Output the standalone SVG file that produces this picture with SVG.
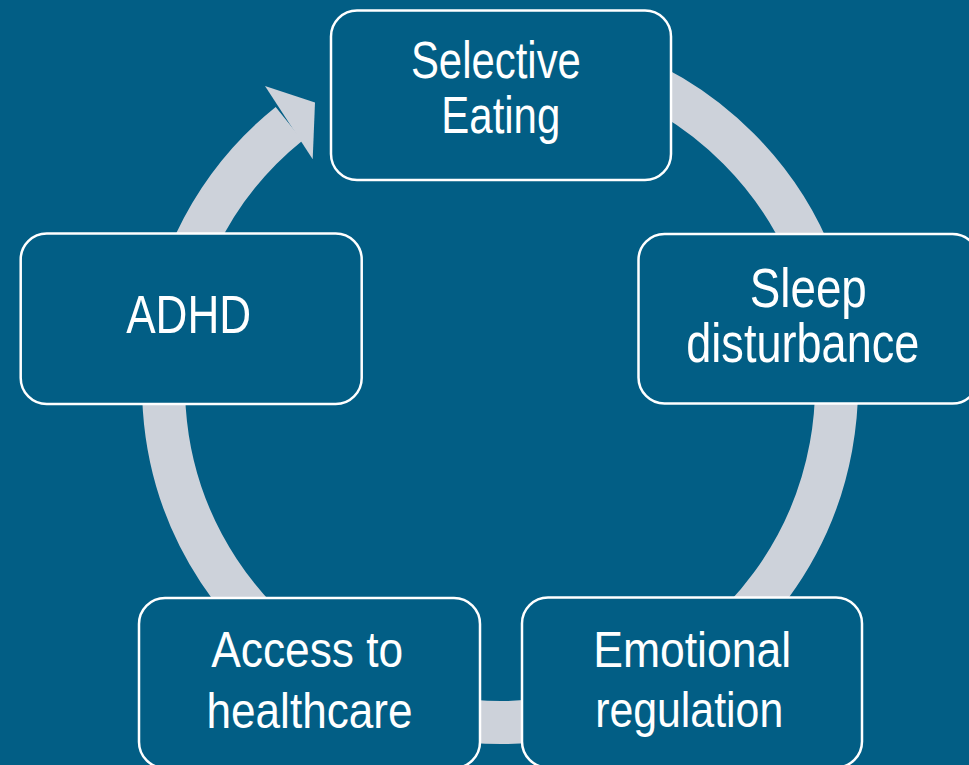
<svg xmlns="http://www.w3.org/2000/svg" width="969" height="765" viewBox="0 0 969 765">
  <style>
    .bg { fill: #025E85; }
    .ring { fill: none; stroke: #CDD2DA; stroke-width: 43; }
    .head { fill: #CDD2DA; }
    .box { fill: #025E85; stroke: #FFFFFF; stroke-width: 2.5; }
    .label { fill: #FFFFFF; font-family: "Liberation Sans", Arial, sans-serif; text-anchor: middle; }
  </style>
  <rect class="bg" x="0" y="0" width="969" height="765"/>

  <!-- circular cycle arrow running clockwise, ending at Selective Eating -->
  <g id="connectors">
    <path class="ring" d="M 441.57 54.61 A 336.5 336.5 0 1 1 289.15 123.75"/>
    <polygon class="head" points="265,86 315,102.5 312.7,159.3"/>
  </g>

  <g id="selective-eating">
    <rect class="box" x="331" y="10.5" width="340" height="169.5" rx="26"/>
    <text class="label" font-size="52" x="495.9" y="78.3" textLength="170" lengthAdjust="spacingAndGlyphs">Selective</text>
    <text class="label" font-size="52" x="500.8" y="133.3" textLength="119" lengthAdjust="spacingAndGlyphs">Eating</text>
  </g>

  <g id="sleep-disturbance">
    <rect class="box" x="638.5" y="234" width="340" height="169.5" rx="26"/>
    <text class="label" font-size="55" x="808.3" y="306.7" textLength="117" lengthAdjust="spacingAndGlyphs">Sleep</text>
    <text class="label" font-size="55" x="802.8" y="361.7" textLength="233" lengthAdjust="spacingAndGlyphs">disturbance</text>
  </g>

  <g id="adhd">
    <rect class="box" x="20.7" y="233.5" width="341" height="170.5" rx="26"/>
    <text class="label" font-size="54" x="188.7" y="333.3" textLength="125" lengthAdjust="spacingAndGlyphs">ADHD</text>
  </g>

  <g id="access-to-healthcare">
    <rect class="box" x="139" y="598" width="341" height="170" rx="26"/>
    <text class="label" font-size="50" x="307.2" y="667" textLength="192" lengthAdjust="spacingAndGlyphs">Access to</text>
    <text class="label" font-size="50" x="309.5" y="727.5" textLength="206" lengthAdjust="spacingAndGlyphs">healthcare</text>
  </g>

  <g id="emotional-regulation">
    <rect class="box" x="522" y="597.5" width="340" height="170" rx="26"/>
    <text class="label" font-size="50" x="692.2" y="666.7" textLength="198" lengthAdjust="spacingAndGlyphs">Emotional</text>
    <text class="label" font-size="50" x="689.2" y="727" textLength="188" lengthAdjust="spacingAndGlyphs">regulation</text>
  </g>
</svg>
